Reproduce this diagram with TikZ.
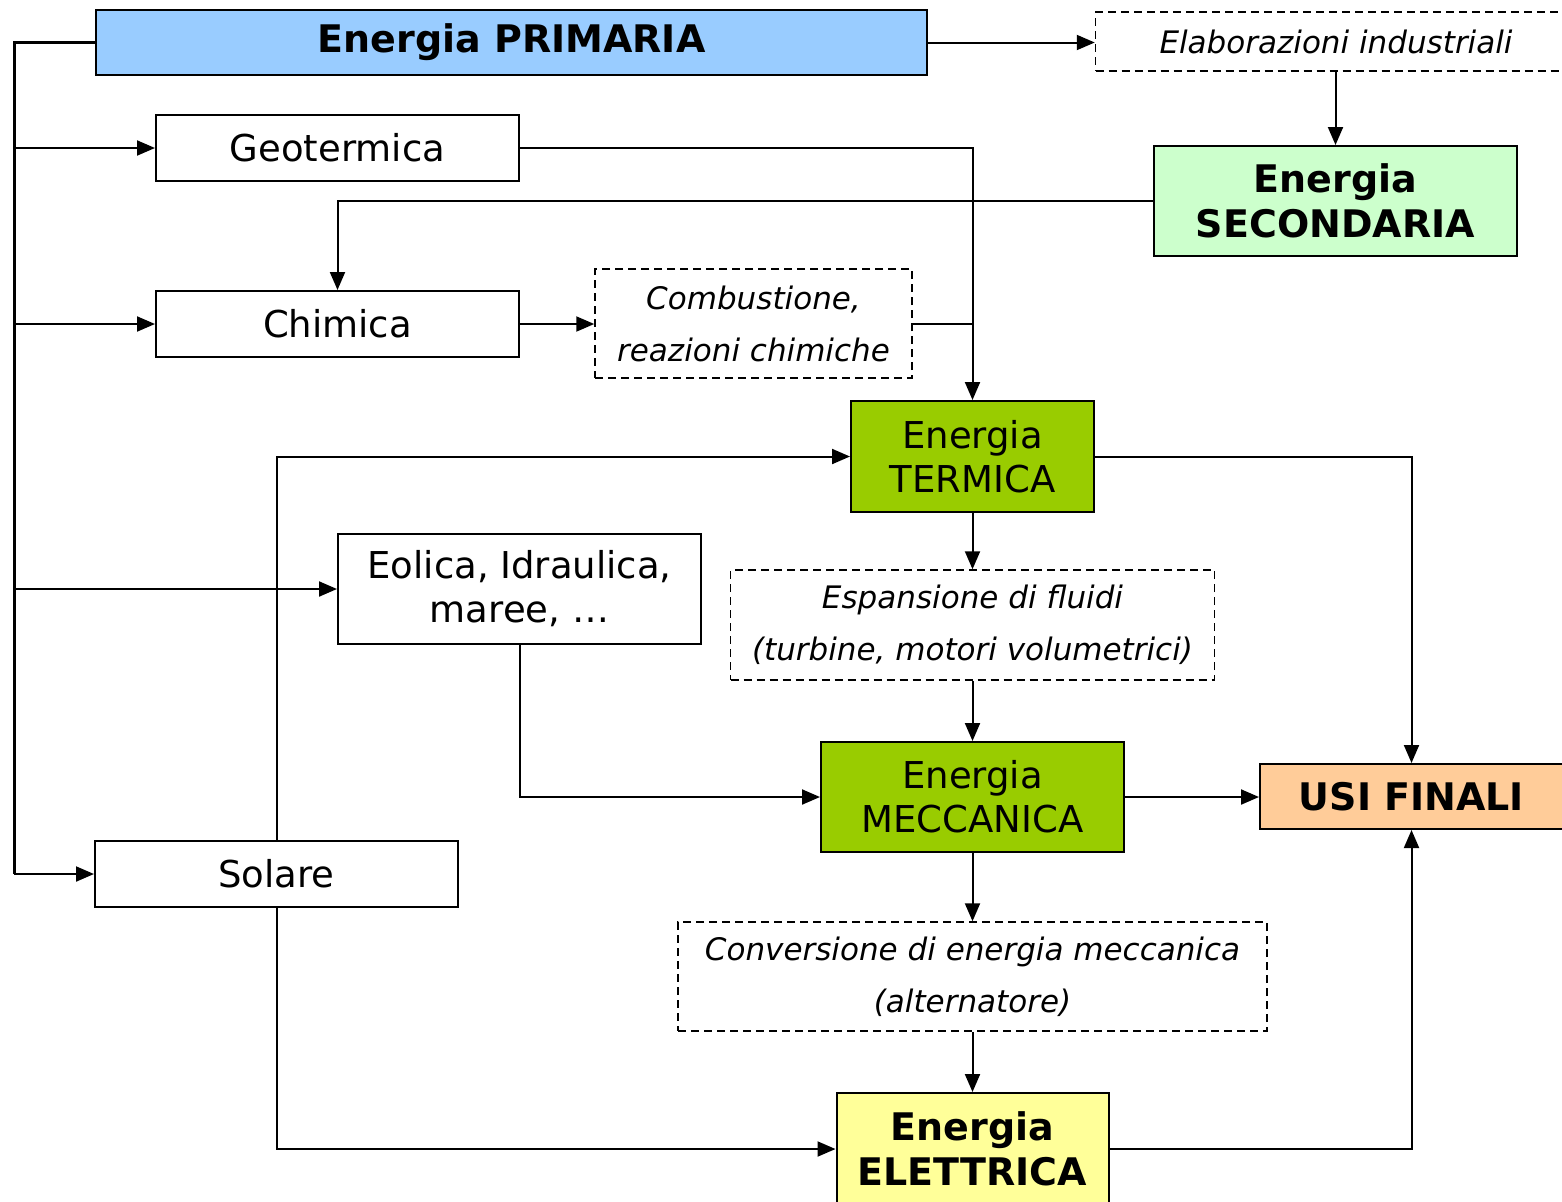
\documentclass[tikz,border=0pt]{standalone}
\usepackage{fontspec}
\setmainfont{DejaVu Sans}
\usetikzlibrary{arrows.meta}
\definecolor{primblue}{HTML}{99CCFF}
\definecolor{secgreen}{HTML}{CCFFCC}
\definecolor{midgreen}{HTML}{99CC00}
\definecolor{usiorange}{HTML}{FFCC99}
\definecolor{eletyellow}{HTML}{FFFF99}
\begin{document}
\begin{tikzpicture}[x=0.5pt,y=-0.5pt,
  box/.style={draw=black, line width=1pt, fill=white, align=center, inner sep=0pt,
    font=\fontsize{18.5}{22}\selectfont},
  boldbox/.style={box, font=\fontsize{19}{22.5}\selectfont\bfseries},
  procbox/.style={draw=black, line width=0.75pt, dash pattern=on 4pt off 2.5pt,
    fill=white, align=center, inner sep=0pt,
    font=\fontsize{15.5}{26}\selectfont\itshape},
  link/.style={line width=1pt},
  arr/.style={link, -{Triangle[length=9pt,width=7.5pt]}},
  bus/.style={line width=1.5pt}]
\useasboundingbox (0,0) rectangle (1562,1201);

% primary and secondary sources
\node[boldbox, fill=primblue, minimum width=415.5pt, minimum height=32.5pt] (prim) at (511.5,42.5) {Energia PRIMARIA};
\node[procbox, minimum width=240.5pt, minimum height=29.5pt] (elab) at (1336,41.5) {Elaborazioni industriali};
\node[boldbox, fill=secgreen, minimum width=181.5pt, minimum height=55pt] (sec) at (1335.5,201) {Energia\\SECONDARIA};

% primary forms
\node[box, minimum width=181.5pt, minimum height=33pt] (geo) at (337.5,148) {Geotermica};
\node[box, minimum width=181.5pt, minimum height=33pt] (chim) at (337.5,324) {Chimica};
\node[box, minimum width=181.5pt, minimum height=55pt] (eol) at (519.5,589) {Eolica, Idraulica,\\maree, …};
\node[box, minimum width=181.5pt, minimum height=33pt] (sol) at (276.5,874) {Solare};

% conversion processes
\node[procbox, minimum width=158.5pt, minimum height=54.5pt] (comb) at (753.5,323.5) {Combustione,\\reazioni chimiche};
\node[procbox, minimum width=242pt, minimum height=55pt] (esp) at (972.5,625) {Espansione di fluidi\\(turbine, motori volumetrici)};
\node[procbox, minimum width=294.5pt, minimum height=54.5pt] (conv) at (972.5,976.5) {Conversione di energia meccanica\\(alternatore)};

% useful energy forms
\node[box, fill=midgreen, minimum width=121.5pt, minimum height=55.5pt] (term) at (972.5,456.5) {Energia\\TERMICA};
\node[box, fill=midgreen, minimum width=151.5pt, minimum height=55pt] (mecc) at (972.5,797) {Energia\\MECCANICA};
\node[boldbox, fill=eletyellow, minimum width=136pt, minimum height=56pt] (elet) at (972.5,1149) {Energia\\ELETTRICA};
\node[boldbox, fill=usiorange, minimum width=151.5pt, minimum height=32.5pt] (usi) at (1411.5,796.5) {USI FINALI};

% distribution bus on the left
\coordinate (busTop) at (14,42.5);
\coordinate (busBot) at (14,874);
\draw[bus] (prim.west) -- (busTop) -- (busBot);
\draw[arr] (busBot) -- (sol.west);
\draw[arr] (busTop |- geo.west) -- (geo.west);
\draw[arr] (busTop |- chim.west) -- (chim.west);
\draw[arr] (busTop |- eol.west) -- (eol.west);

% top chain
\draw[arr] (prim.east) -- (elab.west |- prim.east);
\draw[arr] (elab.south -| sec.north) -- (sec.north);
\draw[arr] (sec.west) -| (chim.north);

% into thermal energy
\draw[arr] (geo.east) -| (term.north);
\draw[arr] (chim.east) -- (comb.west |- chim.east);
\draw[link] (comb.east) -- (term.north |- comb.east);
\draw[arr] (sol.north) |- (term.west);

% down the conversion chain
\draw[arr] (term.south) -- (esp.north);
\draw[arr] (esp.south) -- (mecc.north);
\draw[arr] (eol.south) |- (mecc.west);
\draw[arr] (mecc.south) -- (conv.north);
\draw[arr] (conv.south) -- (elet.north);
\draw[arr] (sol.south) |- (elet.west);

% to final uses
\draw[arr] (term.east) -| (usi.north);
\draw[arr] (mecc.east) -- (usi.west |- mecc.east);
\draw[arr] (elet.east) -| (usi.south);
\end{tikzpicture}
\end{document}
